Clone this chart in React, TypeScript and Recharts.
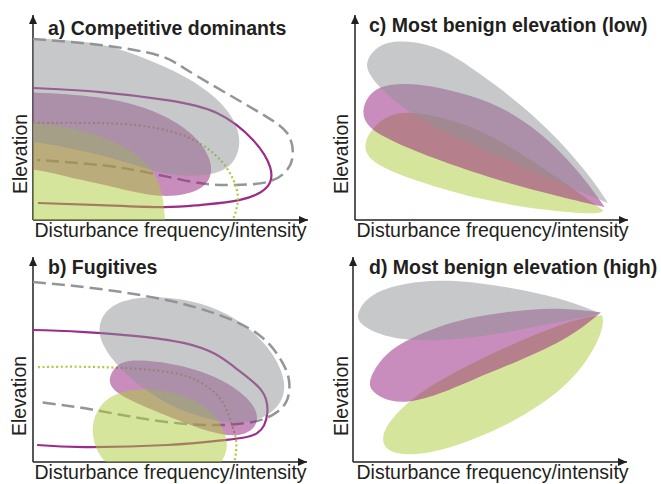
import React from 'react';
import { ScatterChart, Scatter, XAxis, YAxis } from 'recharts';

type Pt = { x: number; y: number };
const pts = (a: number[][]): Pt[] => a.map(([x, y]) => ({ x, y }));

// a) competitive dominants
const aDashed = pts([[0, 88.3], [24.4, 85.4], [45.1, 80.5], [56, 73.2], [72.7, 60], [85.1, 50.2], [92.4, 42.4], [94.5, 32.7], [92.4, 24.4], [85.1, 18.5], [72.7, 17.1], [60.7, 18], [42.5, 22.9], [24.4, 26.8], [1.5, 29.3]]);
const aSolid = pts([[0, 64.4], [24.4, 62.4], [48.7, 58.5], [66.9, 52.2], [80, 39], [86.2, 25.9], [85.1, 16.1], [75.3, 9.8], [60.7, 7.3], [47.3, 6.3], [24.4, 7.3], [1.8, 8.3]]);
const aDotted = pts([[0, 47.3], [24.4, 47.3], [42.5, 45.4], [56, 40.5], [65.5, 32.7], [71.6, 22.9], [74.5, 11.2], [72.7, 0]]);
const aGray = pts([[-15, 89], [0, 88.8], [24.4, 86.8], [38.9, 80], [56, 70.2], [68, 58.5], [73.8, 47.8], [75.6, 38], [73.8, 29.3], [69.5, 23.9], [62.5, 21.5], [51.6, 21.5], [42.5, 24.4], [29.1, 30.2], [17.1, 34.1], [0, 38.5], [-15, 40]]);
const aMag = pts([[-15, 62.4], [0, 62.4], [24.4, 60.5], [42.5, 54.6], [56, 44.9], [63.3, 34.1], [65.5, 24.4], [63.3, 16.6], [56, 12.2], [46.2, 11.2], [36.4, 13.7], [28, 16.6], [12.4, 21], [0, 25.4], [-15, 25.4]]);
const aLime = pts([[-15, 47.3], [0, 47.3], [13.5, 45.4], [26.2, 40.5], [37.1, 33.2], [44.4, 23.4], [47.3, 12.2], [48, 0], [48.5, -10], [-15, -10]]);

// b) fugitives
const bDashed = pts([[0, 87.8], [24.4, 84.4], [48.7, 79], [66.9, 72.2], [82.5, 62], [90.9, 48.8], [93.5, 39], [92.4, 29.3], [87.3, 22.9], [80, 19.5], [66.9, 18], [48.7, 19.5], [30.5, 23.4], [16, 26.8], [1.5, 29.3]]);
const bSolid = pts([[0, 64.4], [18.9, 63.4], [55.3, 58], [73.5, 46.3], [83.3, 35.1], [85.5, 23.9], [81.8, 14.1], [69.8, 10.7], [49.1, 8.3], [18.9, 7.3], [1.5, 8.3]]);
const bDotted = pts([[1.8, 46.3], [24.4, 46.3], [49.1, 43.9], [61.5, 38.5], [68.7, 30.2], [72.4, 19], [74.2, 9.3], [73.5, 0]]);
const bGray = pts([[23.6, 67.8], [28.7, 78], [43.3, 81.5], [61.5, 78.3], [77.1, 68.3], [88, 53.2], [92.6, 38.5], [90.8, 28.5], [84.4, 21], [74.5, 18.5], [65.1, 20.5], [52.7, 25.4], [40.7, 35.1], [30.9, 46.3], [24.6, 58]]);
const bMag = pts([[26.9, 40], [30.9, 48.8], [38.2, 50.2], [55.3, 47.3], [69.8, 40], [79.6, 30.2], [82.5, 22], [80.7, 15.6], [74.5, 12.2], [65.1, 14.1], [52.7, 20.5], [40.7, 26.8], [29.8, 33.7]]);
const bLime = pts([[21.5, 20.5], [26.2, 31.7], [37.1, 36.1], [49.1, 35.1], [60, 30.2], [67.3, 22], [70.9, 12.2], [70.9, 4.9], [68, -2], [64.4, -6], [31.6, -6], [24.4, 2], [21.8, 10.7]]);

// c) most benign elevation (low)
const cGray = pts([[92.7, 8.3], [92.7, 8.3], [92.7, 8.3], [88, 18], [78.2, 34.1], [63.6, 53.7], [45.5, 71.7], [30.9, 85], [16.4, 88], [8.5, 85.5], [4, 78], [4.5, 72.2], [9.1, 64.4], [15.3, 57.1], [27.3, 46.3], [39.3, 39], [63.6, 24.4], [85.5, 12.2]]);
const cMag = pts([[91.5, 6.2], [91.5, 6.2], [91.5, 6.2], [75.6, 11.2], [51.6, 19.5], [27.3, 30.7], [12.7, 39], [4.2, 45.4], [2.2, 53.7], [5.8, 63], [12.7, 66.5], [23.6, 66.5], [38.2, 62.4], [52.7, 56.1], [67.3, 43.9], [81.8, 24.4]]);
const cLime = pts([[91, 4.6], [91, 4.6], [91, 4.6], [81.8, 13.7], [63.6, 30.2], [45.5, 44.9], [27.3, 51.7], [15.3, 53.2], [7.3, 47], [2.6, 36.6], [5.6, 27.8], [21.1, 19.5], [45.5, 9.8], [69.8, 4.6], [89.1, 2.6]]);

// d) most benign elevation (high)
const dGray = pts([[90.5, 72.4], [90.5, 72.4], [90.5, 72.4], [73.5, 67.8], [55.3, 62.9], [37.1, 59.5], [18.9, 59], [8, 62.9], [2, 67.8], [1.2, 73], [7.5, 84.5], [30.9, 90], [55.3, 85.8], [76, 80]]);
const dMag = pts([[90.5, 73], [90.5, 73], [90.5, 73], [79.6, 61], [61.5, 49.8], [43.3, 40], [30.9, 32.7], [18.9, 28.3], [10.5, 30.8], [6.4, 35.1], [5.6, 40], [10.5, 51.2], [18.9, 59.5], [37.1, 69.3], [55.3, 73.2], [73.5, 75.6]]);
const dLime = pts([[90.9, 71.7], [90.9, 71.7], [91.8, 65.9], [85.5, 48.3], [73.5, 31.7], [55.3, 17.1], [37.1, 7.3], [22.5, 2.9], [12.2, 4.6], [10, 12.2], [14.2, 22], [25.1, 35.1], [43.3, 48.3], [61.5, 59.5], [79.6, 69.3]]);

const yTip = pts([[0, 100]]);
const xTip = pts([[100, 0]]);

const INK = '#231f20';
const GRAY = '#8f9195';
const MAG = '#931b7b';
const LIME = '#adcb39';
const FONT = '"Liberation Sans", Arial, sans-serif';

const NoDot = () => <g />;
const UpArrow = (p: any) => (
  <path d={`M${p.cx},${p.cy} L${p.cx - 4},${p.cy + 9} L${p.cx + 4},${p.cy + 9} Z`} fill={INK} />
);
const RightArrow = (p: any) => (
  <path d={`M${p.cx},${p.cy} L${p.cx - 9},${p.cy - 4} L${p.cx - 9},${p.cy + 4} Z`} fill={INK} />
);

type Blob = { data: Pt[]; color: string };
type Curve = { data: Pt[]; stroke: string; width: number; dash?: string };

const dashed = (data: Pt[]): Curve => ({ data, stroke: '#939598', width: 2.5, dash: '13 6' });
const solid = (data: Pt[]): Curve => ({ data, stroke: '#9b2c89', width: 2.2 });
const dotted = (data: Pt[]): Curve => ({ data, stroke: '#a6ce39', width: 2.2, dash: '2 2.6' });

// margin passed in is the outer box of the axes; the axes themselves take 1px
function Panel({ left, top, margin, curves, blobs }: { left: number; top: number; margin: any; curves: Curve[]; blobs: Blob[] }) {
  const m = { ...margin, left: margin.left - 1, bottom: margin.bottom - 1 };
  return (
    <div style={{ position: 'absolute', left, top }}>
      <ScatterChart width={330} height={242} margin={m}>
        <XAxis type="number" dataKey="x" domain={[0, 100]} allowDataOverflow tick={false} tickLine={false} height={1}
          axisLine={{ stroke: INK, strokeWidth: 1.5 }} />
        <YAxis type="number" dataKey="y" domain={[0, 100]} allowDataOverflow tick={false} tickLine={false} width={1}
          axisLine={{ stroke: INK, strokeWidth: 1.5 }} />
        <XAxis xAxisId="arrow" type="number" dataKey="x" domain={[0, 100]} hide />
        <YAxis yAxisId="arrow" type="number" dataKey="y" domain={[0, 100]} hide />
        {curves.map((c, i) => (
          <Scatter key={'c' + i} data={c.data} line={{ stroke: c.stroke, strokeWidth: c.width, strokeDasharray: c.dash, fill: 'none' }}
            lineType="joint" lineJointType="natural" shape={NoDot} isAnimationActive={false} />
        ))}
        {blobs.map((b, i) => (
          <Scatter key={'b' + i} data={b.data} line={{ fill: b.color, fillOpacity: 0.5, stroke: 'none' }}
            lineType="joint" lineJointType="basisClosed" shape={NoDot} isAnimationActive={false} />
        ))}
        <Scatter xAxisId="arrow" yAxisId="arrow" data={yTip} shape={UpArrow} isAnimationActive={false} />
        <Scatter xAxisId="arrow" yAxisId="arrow" data={xTip} shape={RightArrow} isAnimationActive={false} />
      </ScatterChart>
    </div>
  );
}

const titles = [
  { x: 48, y: 35, t: 'a) Competitive dominants' },
  { x: 48, y: 274, t: 'b) Fugitives' },
  { x: 369, y: 32, t: 'c) Most benign elevation (low)' },
  { x: 369, y: 274, t: 'd) Most benign elevation (high)' },
];
const xLabels = [{ x: 34.5, y: 237 }, { x: 34.5, y: 479 }, { x: 356.5, y: 237 }, { x: 356.5, y: 479 }];
const yLabels = [{ x: 27, y: 154 }, { x: 26, y: 396 }, { x: 348, y: 154 }, { x: 348, y: 396 }];

export default function App() {
  return (
    <div style={{ position: 'absolute', left: 0, top: 0, width: 661, height: 484, background: '#fff', overflow: 'hidden' }}>
      <Panel left={0} top={0} margin={{ top: 15, left: 33, right: 22, bottom: 22 }}
        curves={[dashed(aDashed), solid(aSolid), dotted(aDotted)]}
        blobs={[{ data: aMag, color: MAG }, { data: aLime, color: LIME }, { data: aGray, color: GRAY }]} />
      <Panel left={0} top={242} margin={{ top: 15, left: 33, right: 23, bottom: 22 }}
        curves={[dashed(bDashed), solid(bSolid), dotted(bDotted)]}
        blobs={[{ data: bMag, color: MAG }, { data: bLime, color: LIME }, { data: bGray, color: GRAY }]} />
      <Panel left={330} top={0} margin={{ top: 15, left: 25, right: 32, bottom: 22 }}
        curves={[]}
        blobs={[{ data: cLime, color: LIME }, { data: cMag, color: MAG }, { data: cGray, color: GRAY }]} />
      <Panel left={330} top={242} margin={{ top: 15, left: 23, right: 33, bottom: 22 }}
        curves={[]}
        blobs={[{ data: dLime, color: LIME }, { data: dMag, color: MAG }, { data: dGray, color: GRAY }]} />
      <svg width={661} height={484} style={{ position: 'absolute', left: 0, top: 0, pointerEvents: 'none' }}>
        <g fontFamily={FONT} fill={INK} fontSize={19.5}>
          {titles.map((d) => (
            <text key={d.t} x={d.x} y={d.y} fontWeight="bold">{d.t}</text>
          ))}
          {xLabels.map((d, i) => (
            <text key={'x' + i} x={d.x} y={d.y}>Disturbance frequency/intensity</text>
          ))}
          {yLabels.map((d, i) => (
            <text key={'y' + i} x={d.x} y={d.y} textAnchor="middle" transform={`rotate(-90 ${d.x} ${d.y})`}>Elevation</text>
          ))}
        </g>
      </svg>
    </div>
  );
}
